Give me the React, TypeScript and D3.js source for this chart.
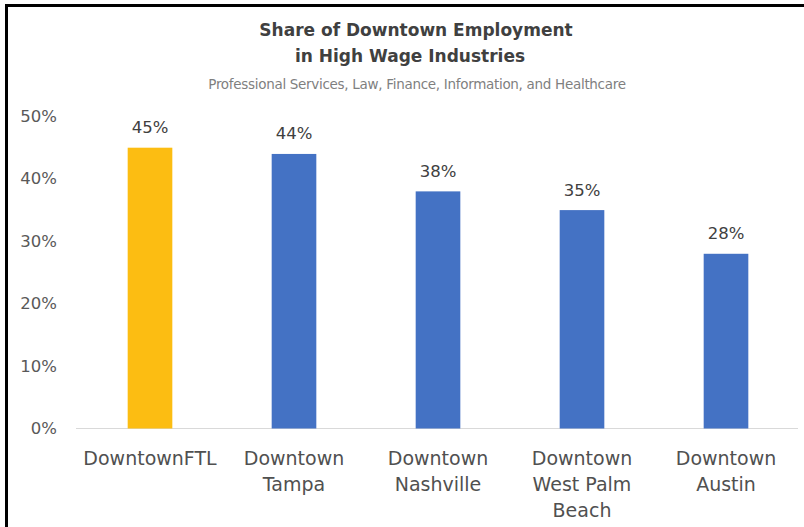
import React from "react";
import * as d3 from "d3";

const categories = ["DowntownFTL", "Downtown Tampa", "Downtown Nashville", "Downtown West Palm Beach", "Downtown Austin"];
const categoryLines = [["DowntownFTL"], ["Downtown", "Tampa"], ["Downtown", "Nashville"], ["Downtown", "West Palm", "Beach"], ["Downtown", "Austin"]];
const values = [0.45, 0.44, 0.38, 0.35, 0.28];
const barColors = ["#FCBD12", "#4472C4", "#4472C4", "#4472C4", "#4472C4"];
const yTicks = [0, 0.1, 0.2, 0.3, 0.4, 0.5];
const titleLines = ["Share of Downtown Employment", "in High Wage Industries"];
const subtitle = "Professional Services, Law, Finance, Information, and Healthcare";

const W = 804;
const H = 527;
const FONT = "'DejaVu Sans', sans-serif";

export default function App() {
  const x = d3.scaleBand<string>().domain(categories).range([78, 798]).paddingInner(0.69).paddingOuter(0.345);
  const y = d3.scaleLinear().domain([0, 0.5]).range([428.5, 116.5]);
  const fmt = d3.format(".0%");
  return (
    <svg width={W} height={H} style={{ position: "absolute", left: 0, top: 0, background: "#fff" }} fontFamily={FONT}>
      <rect x={0} y={0} width={W} height={H} fill="#fff" />
      <line x1={6.5} y1={4} x2={6.5} y2={H} stroke="#000" strokeWidth={3} />
      <line x1={5} y1={5.5} x2={W} y2={5.5} stroke="#000" strokeWidth={3} />
      <text x={416} y={30} textAnchor="middle" dominantBaseline="central" fontSize={17} fontWeight={600} fill="#404040">{titleLines[0]}</text>
      <text x={410} y={56} textAnchor="middle" dominantBaseline="central" fontSize={17} fontWeight={600} fill="#404040">{titleLines[1]}</text>
      <text x={417} y={84} textAnchor="middle" dominantBaseline="central" fontSize={13.5} letterSpacing={-0.3} fill="#7f7f7f">{subtitle}</text>
      {yTicks.map((t) => (
        <text key={t} x={57} y={y(t)} textAnchor="end" dominantBaseline="central" fontSize={16.5} fill="#595959">{fmt(t)}</text>
      ))}
      <line x1={76} x2={798} y1={y(0)} y2={y(0)} stroke="#d9d9d9" strokeWidth={1} />
      {categories.map((c, i) => (
        <g key={c}>
          <rect x={x(c)} y={y(values[i])} width={x.bandwidth()} height={y(0) - y(values[i])} fill={barColors[i]} />
          <text x={(x(c) as number) + x.bandwidth() / 2} y={y(values[i]) - 20} textAnchor="middle" dominantBaseline="central" fontSize={16.5} fill="#404040">{fmt(values[i])}</text>
          {categoryLines[i].map((l, j) => (
            <text key={j} x={(x(c) as number) + x.bandwidth() / 2} y={458 + j * 26} textAnchor="middle" dominantBaseline="central" fontSize={19} fill="#505050">{l}</text>
          ))}
        </g>
      ))}
    </svg>
  );
}
